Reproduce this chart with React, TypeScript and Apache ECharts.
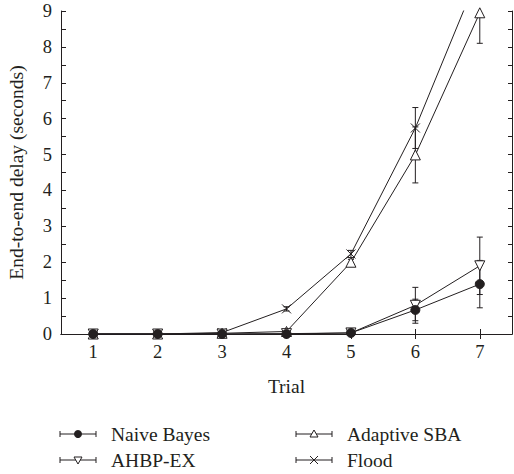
import React, { useEffect, useRef } from "react";
import * as echarts from "echarts";

const trials = [1, 2, 3, 4, 5, 6, 7];
const yTicks = [0, 1, 2, 3, 4, 5, 6, 7, 8, 9];

const naiveBayes = [0.0, 0.0, 0.0, 0.0, 0.03, 0.67, 1.39];
const naiveBayesErr = [0, 0, 0, 0, 0.02, 0.3, 0.66];

const ahbpEx = [0.0, 0.0, 0.0, 0.01, 0.03, 0.8, 1.9];
const ahbpExErr = [0, 0, 0, 0, 0.02, 0.5, 0.8];

const adaptiveSba = [0.0, 0.0, 0.02, 0.07, 2.0, 4.99, 8.95];
const adaptiveSbaErr = [0, 0, 0, 0.03, 0.08, 0.78, 0.85];

const flood = [0.0, 0.0, 0.04, 0.7, 2.23, 5.74, 10.1];
const floodErr = [0, 0, 0, 0.06, 0.1, 0.57, 0.6];

const seriesNames = ["Naive Bayes", "AHBP-EX", "Adaptive SBA", "Flood"];

const INK = "#231f20";
const FONT = "Liberation Serif";

const crossPath = "path://M0,0L10,10M10,0L0,10";

export default function App() {
  const ref = useRef<HTMLDivElement>(null);

  useEffect(() => {
    if (!ref.current) return;
    const chart = echarts.init(ref.current, null, { renderer: "svg" });

    const pairs = (vals: number[]) => trials.map((t, i) => [t, vals[i]]);
    const errData = (vals: number[], errs: number[]) =>
      trials.map((t, i) => [t, vals[i] - errs[i], vals[i] + errs[i]]);

    const errSeries = (name: string, vals: number[], errs: number[]) => ({
      type: "custom",
      name: name + " err",
      clip: true,
      z: 3,
      silent: true,
      renderItem: (params: any, api: any) => {
        const x = api.value(0);
        const lo = api.coord([x, api.value(1)]);
        const hi = api.coord([x, api.value(2)]);
        const w = 3;
        const style = { stroke: INK, lineWidth: 1 };
        return {
          type: "group",
          children: [
            { type: "line", shape: { x1: lo[0], y1: lo[1], x2: hi[0], y2: hi[1] }, style },
            { type: "line", shape: { x1: lo[0] - w, y1: lo[1], x2: lo[0] + w, y2: lo[1] }, style },
            { type: "line", shape: { x1: hi[0] - w, y1: hi[1], x2: hi[0] + w, y2: hi[1] }, style },
          ],
        };
      },
      data: errData(vals, errs),
    });

    const lineSeries = (name: string, vals: number[], symbol: string, size: number, fill: string, rotate = 0) => ({
      type: "line",
      name,
      data: pairs(vals),
      symbol,
      symbolSize: size,
      symbolRotate: rotate,
      showAllSymbol: true,
      clip: true,
      z: 4,
      lineStyle: { color: INK, width: 1 },
      itemStyle: { color: fill, borderColor: INK, borderWidth: 1 },
    });

    const legendItems = [
      { name: seriesNames[0], x: 60, y: 434, kind: "circle" },
      { name: seriesNames[2], x: 296, y: 434, kind: "up" },
      { name: seriesNames[1], x: 60, y: 460, kind: "down" },
      { name: seriesNames[3], x: 296, y: 460, kind: "cross" },
    ];
    const legendGraphics: any[] = [];
    legendItems.forEach((it) => {
      const st = { stroke: INK, lineWidth: 1, fill: "none" };
      const cx = it.x + 18;
      legendGraphics.push({ type: "line", shape: { x1: it.x, y1: it.y, x2: it.x + 36, y2: it.y }, style: st });
      legendGraphics.push({ type: "line", shape: { x1: it.x, y1: it.y - 3, x2: it.x, y2: it.y + 3 }, style: st });
      legendGraphics.push({ type: "line", shape: { x1: it.x + 36, y1: it.y - 3, x2: it.x + 36, y2: it.y + 3 }, style: st });
      if (it.kind === "circle") {
        legendGraphics.push({ type: "circle", shape: { cx, cy: it.y, r: 4 }, style: { fill: INK } });
      } else if (it.kind === "up") {
        legendGraphics.push({ type: "polygon", shape: { points: [[cx - 4, it.y + 3], [cx + 4, it.y + 3], [cx, it.y - 4]] }, style: { fill: "#fff", stroke: INK, lineWidth: 1 } });
      } else if (it.kind === "down") {
        legendGraphics.push({ type: "polygon", shape: { points: [[cx - 4, it.y - 3], [cx + 4, it.y - 3], [cx, it.y + 4]] }, style: { fill: "#fff", stroke: INK, lineWidth: 1 } });
      } else {
        legendGraphics.push({ type: "line", shape: { x1: cx - 4, y1: it.y - 4, x2: cx + 4, y2: it.y + 4 }, style: st });
        legendGraphics.push({ type: "line", shape: { x1: cx - 4, y1: it.y + 4, x2: cx + 4, y2: it.y - 4 }, style: st });
      }
      legendGraphics.push({
        type: "text",
        x: it.x + 51,
        y: it.y,
        style: { text: it.name, fill: INK, font: `19.5px "${FONT}"`, verticalAlign: "middle", align: "left" },
      });
    });

    const axisLineStyle = { lineStyle: { color: INK, width: 1 } };

    chart.setOption({
      animation: false,
      backgroundColor: "#fff",
      grid: { left: 61, right: 2, top: 11, bottom: 140, containLabel: false, outerBoundsMode: "none" },
      xAxis: [
        {
          type: "value",
          position: "bottom",
          min: 0.5,
          max: 7.5,
          name: "Trial",
          nameLocation: "middle",
          nameGap: 42,
          nameTextStyle: { color: INK, fontFamily: FONT, fontSize: 19.5 },
          axisLine: axisLineStyle,
          axisTick: { show: true, inside: true, length: 5, customValues: trials, lineStyle: { color: INK } },
          axisLabel: { customValues: trials, color: INK, fontFamily: FONT, fontSize: 18.5, margin: 8 },
          splitLine: { show: false },
        },
        {
          type: "value",
          position: "top",
          min: 0.5,
          max: 7.5,
          axisLine: axisLineStyle,
          axisTick: { show: true, inside: true, length: 5, customValues: trials, lineStyle: { color: INK } },
          axisLabel: { show: false },
          splitLine: { show: false },
        },
      ],
      yAxis: [
        {
          type: "value",
          position: "left",
          min: 0,
          max: 9,
          interval: 1,
          name: "End-to-end delay (seconds)",
          nameLocation: "middle",
          nameGap: 35,
          nameTextStyle: { color: INK, fontFamily: FONT, fontSize: 19.5 },
          axisLine: { show: true, ...axisLineStyle },
          axisTick: { show: true, inside: true, length: 5, lineStyle: { color: INK } },
          minorTick: { show: true, splitNumber: 2, length: 5, lineStyle: { color: INK } },
          axisLabel: { color: INK, fontFamily: FONT, fontSize: 18.5, margin: 9, customValues: yTicks },
          splitLine: { show: false },
        },
        {
          type: "value",
          position: "right",
          min: 0,
          max: 9,
          interval: 0.5,
          axisLine: { show: true, ...axisLineStyle },
          axisTick: { show: true, inside: true, length: 4, lineStyle: { color: INK } },
          axisLabel: { show: false },
          splitLine: { show: false },
        },
      ],
      series: [
        errSeries(seriesNames[3], flood, floodErr),
        errSeries(seriesNames[2], adaptiveSba, adaptiveSbaErr),
        errSeries(seriesNames[1], ahbpEx, ahbpExErr),
        errSeries(seriesNames[0], naiveBayes, naiveBayesErr),
        lineSeries(seriesNames[3], flood, crossPath, 9, INK),
        lineSeries(seriesNames[2], adaptiveSba, "triangle", 10, "#fff"),
        lineSeries(seriesNames[1], ahbpEx, "triangle", 10, "#fff", 180),
        lineSeries(seriesNames[0], naiveBayes, "circle", 9, INK),
      ],
      graphic: legendGraphics,
    });

    return () => chart.dispose();
  }, []);

  return (
    <div
      ref={ref}
      style={{ position: "absolute", left: 0, top: 0, width: 514, height: 474 }}
    />
  );
}
